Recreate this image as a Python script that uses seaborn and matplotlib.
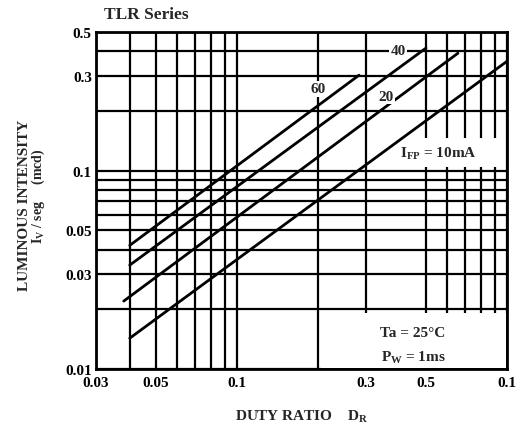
import pandas as pd
import numpy as np
import matplotlib
matplotlib.use("Agg")
import matplotlib.pyplot as plt
from matplotlib.patches import Rectangle
import seaborn as sns

# I_FP curves (start / end of each straight line)
ifp_ma = [60, 40, 20, 10]
duty_start = [0.040, 0.040, 0.038, 0.040]
duty_end = [0.283, 0.501, 0.658, 1.0]
iv_start = [0.042, 0.0334, 0.022, 0.0143]
iv_end = [0.303, 0.415, 0.391, 0.356]

x_major = [0.03, 0.05, 0.1, 0.3, 0.5, 1.0]
x_labels = ["0.03", "0.05", "0.1", "0.3", "0.5", "0.1"]
x_minor = [0.04, 0.06, 0.07, 0.08, 0.09, 0.2, 0.6, 0.7, 0.8, 0.9]
y_major = [0.01, 0.03, 0.05, 0.1, 0.3, 0.5]
y_labels = ["0.01", "0.03", "0.05", "0.1", "0.3", "0.5"]
y_minor = [0.02, 0.04, 0.06, 0.07, 0.08, 0.09, 0.2, 0.4]

rows = []
for i in range(len(ifp_ma)):
    rows.append({"ifp": ifp_ma[i], "duty": duty_start[i], "iv": iv_start[i]})
    rows.append({"ifp": ifp_ma[i], "duty": duty_end[i], "iv": iv_end[i]})
df = pd.DataFrame(rows)

sns.set_style("white")
plt.rcParams["font.family"] = ["Liberation Serif", "DejaVu Serif"]
plt.rcParams["font.weight"] = "bold"
plt.rcParams["axes.labelweight"] = "bold"
plt.rcParams["mathtext.fontset"] = "custom"
plt.rcParams["mathtext.rm"] = "Liberation Serif:bold"
plt.rcParams["mathtext.default"] = "rm"

fig = plt.figure(figsize=(5.23, 4.35), dpi=100)
ax = fig.add_axes([0.1836, 0.1494, 0.7858, 0.7747])
ax.set_xscale("log")
ax.set_yscale("log")
ax.set_xlim(0.03, 1.0)
ax.set_ylim(0.01, 0.5)

ax.set_xticks(x_major)
ax.set_xticklabels(x_labels)
ax.set_xticks(x_minor, minor=True)
ax.set_xticklabels([], minor=True)
ax.set_yticks(y_major)
ax.set_yticklabels(y_labels)
ax.set_yticks(y_minor, minor=True)
ax.set_yticklabels([], minor=True)
ax.tick_params(which="both", length=0, labelsize=11, colors="black")
ax.tick_params(axis="x", pad=5)
ax.tick_params(axis="y", pad=3)
ax.grid(True, which="both", color="black", lw=1.6)
ax.set_axisbelow(True)
for s in ax.spines.values():
    s.set_color("black")
    s.set_linewidth(2.0)
    s.set_zorder(5)

# white patches over the grid behind the notes
ax.add_patch(Rectangle((0.548, 0.003), 0.449, 0.164, transform=ax.transAxes,
                       facecolor="white", edgecolor="none", zorder=1.5))
ax.add_patch(Rectangle((0.71, 0.598), 0.28, 0.088, transform=ax.transAxes,
                       facecolor="white", edgecolor="none", zorder=1.5))

sns.lineplot(data=df, x="duty", y="iv", units="ifp", estimator=None,
             color="black", lw=2.0, ax=ax, legend=False, zorder=3)

white = dict(facecolor="white", edgecolor="none", pad=1.0)
ax.text(0.540, 0.831, "60", transform=ax.transAxes, ha="center", va="center",
        fontsize=11, bbox=white, zorder=4)
ax.text(0.735, 0.944, "40", transform=ax.transAxes, ha="center", va="center",
        fontsize=11, bbox=white, zorder=4)
ax.text(0.706, 0.810, "20", transform=ax.transAxes, ha="center", va="center",
        fontsize=11, bbox=white, zorder=4)
ax.text(0.832, 0.640, "I$_{FP}$ = 10mA", transform=ax.transAxes, ha="center",
        va="center", fontsize=11, zorder=4)
ax.text(0.771, 0.107, "Ta = 25°C", transform=ax.transAxes, ha="center",
        va="center", fontsize=11, zorder=4)
ax.text(0.771, 0.036, "P$_{W}$ = 1ms", transform=ax.transAxes, ha="center",
        va="center", fontsize=11, zorder=4)

ax.set_xlabel("DUTY RATIO    D$_{R}$", fontsize=11, labelpad=14)
ax.set_ylabel("")
fig.text(0.046, 0.529, "LUMINOUS INTENSITY", rotation=90, ha="center",
         va="center", fontsize=11)
fig.text(0.073, 0.549, "I$_{V}$ / seg     (mcd)", rotation=90, ha="center",
         va="center", fontsize=10)
fig.text(0.199, 0.966, "TLR Series", ha="left", va="center", fontsize=12.5)

fig.savefig("out.png", dpi=100)
